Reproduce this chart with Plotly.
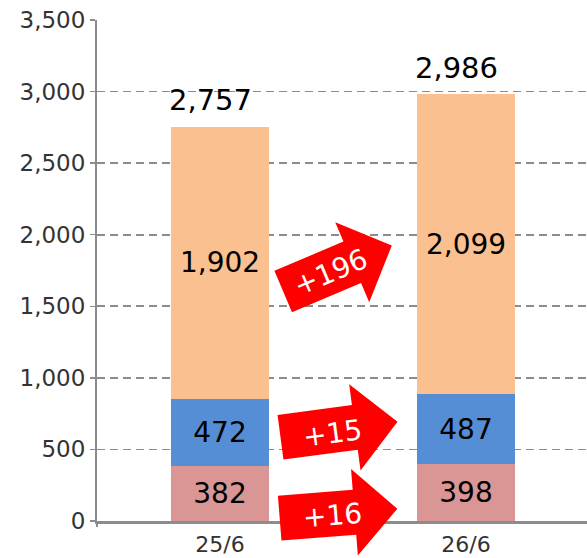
import math
import plotly.graph_objects as go

categories = ["25/6", "26/6"]
seg_bottom = [382, 398]      # pink
seg_middle = [472, 487]      # blue
seg_top = [1902, 2099]       # orange
totals = [2757, 2986]
arrow_labels = ["+196", "+15", "+16"]

W, H = 587, 558
ML, MR, MT, MB = 97, 0, 20, 37
PW, PH = W - ML - MR, H - MT - MB
FONT = "DejaVu Sans"

fig = go.Figure()
for vals, col in [(seg_bottom, "#D99694"), (seg_middle, "#558ED5"), (seg_top, "#FAC090")]:
    fig.add_bar(
        x=categories, y=vals, marker=dict(color=col, line=dict(width=0)),
        text=[f"{v:,}" for v in vals], textposition="inside",
        insidetextanchor="middle", textangle=0,
        textfont=dict(family=FONT, size=28, color="#000000"),
        hoverinfo="skip",
    )

annotations = []
for c, t in zip(categories, totals):
    annotations.append(dict(
        x=c, y=t, xref="x", yref="y", text=f"{t:,}", showarrow=False,
        yshift=26, xshift=-10, font=dict(family=FONT, size=29, color="#000000"),
    ))

def px2paper(px, py):
    return (px - ML) / PW, (MT + PH - py) / PH

def arrow_path(cx, cy, ang, L=118, tw=45, hw=87, hl=43):
    a = math.radians(ang)
    pts = [(-L / 2, -tw / 2), (L / 2 - hl, -tw / 2), (L / 2 - hl, -hw / 2), (L / 2, 0),
           (L / 2 - hl, hw / 2), (L / 2 - hl, tw / 2), (-L / 2, tw / 2)]
    out = []
    for u, v in pts:
        x = cx + u * math.cos(a) + v * math.sin(a)
        y = cy - u * math.sin(a) + v * math.cos(a)
        X, Y = px2paper(x, y)
        out.append(f"{X:.5f},{Y:.5f}")
    return "M" + " L".join(out) + " Z"

# arrow decorations (pixel placement: centre x, centre y, angle, text centre)
arrow_geo = [
    (337.5, 268.5, 23, 330, 272),
    (339.0, 429.5, 7.5, 332, 433),
    (338.5, 513.5, 4.5, 332, 515),
]
shapes = []
for (cx, cy, ang, tx, ty), lab in zip(arrow_geo, arrow_labels):
    shapes.append(dict(type="path", xref="paper", yref="paper", path=arrow_path(cx, cy, ang),
                       fillcolor="#FF0000", line=dict(width=0), layer="above"))
    X, Y = px2paper(tx, ty)
    annotations.append(dict(x=X, y=Y, xref="paper", yref="paper", text=lab, showarrow=False,
                            textangle=-ang, xanchor="center", yanchor="middle",
                            font=dict(family=FONT, size=28, color="#FFFFFF")))

# small tick below the axis corner
shapes.append(dict(type="line", xref="paper", yref="paper", x0=0, x1=0, y0=0, y1=-6 / PH,
                   line=dict(color="#8C8C8C", width=2)))

fig.update_layout(
    width=W, height=H, barmode="stack", bargap=0.6, showlegend=False,
    margin=dict(l=ML, r=MR, t=MT, b=MB, pad=0, autoexpand=False),
    paper_bgcolor="#FFFFFF", plot_bgcolor="#FFFFFF",
    annotations=annotations, shapes=shapes,
    uniformtext=dict(mode=False),
)
fig.update_xaxes(
    type="category", categoryorder="array", categoryarray=categories, automargin=False,
    range=[-0.5, -0.5 + PW / 246], showline=True, linecolor="#8C8C8C", linewidth=2.5,
    ticks="", showgrid=False, ticklabelstandoff=2,
    tickfont=dict(family=FONT, size=22, color="#333333"),
)
fig.update_yaxes(
    range=[0, 3500], dtick=500, tick0=0, tickformat=",", showgrid=True, automargin=False,
    gridcolor="#8C8C8C", gridwidth=1.6, griddash="8px,5px", zeroline=False,
    showline=True, linecolor="#8C8C8C", linewidth=2, ticks="outside", ticklen=5,
    tickcolor="#8C8C8C", tickwidth=1.5,
    tickfont=dict(family=FONT, size=23, color="#333333"),
)
fig.write_html(
    "out.html",
    config={"displayModeBar": False, "staticPlot": True},
    post_script="document.body.style.margin='0';document.body.style.overflow='hidden';",
)
